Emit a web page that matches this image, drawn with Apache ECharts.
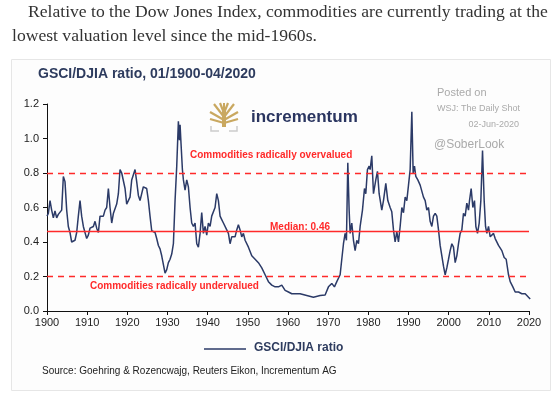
<!DOCTYPE html>
<html>
<head>
<meta charset="utf-8">
<script src="https://cdn.jsdelivr.net/npm/echarts@6/dist/echarts.min.js"></script>
<style>
html,body{margin:0;padding:0;background:#fff;}
#c{width:559px;height:398px;}
</style>
</head>
<body>
<div id="c"></div>
<script>
// ---- data ----
var years = [1900.0,1900.33,1900.75,1901.16,1901.58,1901.99,1902.41,1902.82,1903.24,1903.65,1904.07,1904.48,1904.90,1905.31,1905.73,1906.14,1906.56,1906.97,1907.39,1907.80,1908.22,1908.63,1909.05,1909.46,1909.88,1910.29,1910.71,1911.13,1911.54,1911.96,1912.37,1912.79,1913.20,1913.62,1914.03,1914.45,1914.86,1915.28,1915.69,1916.11,1916.52,1916.94,1917.35,1917.77,1918.18,1918.60,1919.01,1919.43,1919.84,1920.26,1920.67,1921.09,1921.50,1921.92,1922.33,1922.75,1923.16,1923.58,1923.99,1924.41,1924.82,1925.24,1925.65,1926.07,1926.48,1926.90,1927.31,1927.73,1928.14,1928.56,
1929.39,1929.81,1930.22,1930.64,1931.05,1931.47,1931.88,1932.30,1932.71,1932.96,1933.13,1933.37,1933.71,1933.96,1934.37,1934.79,1935.20,1935.62,1936.03,1936.45,1936.86,1937.28,1937.69,1938.11,1938.52,1938.94,1939.35,1939.77,1940.18,1940.60,1941.01,1941.43,1941.84,1942.26,1942.67,1943.09,1943.50,1943.92,1944.33,1944.75,1945.16,1945.58,1945.99,1946.82,1947.24,1947.65,1948.07,1948.48,1948.90,1949.32,1949.73,1950.15,1950.98,1951.81,1952.63,1953.47,1954.30,1955.13,1955.96,1956.79,1957.62,1958.45,1959.28,1960.11,1960.94,1963.01,1964.67,1966.33,1968.00,
1969.24,1970.07,1970.90,1971.56,1972.15,1972.98,1973.39,1973.81,1974.22,1974.55,1974.89,1975.22,1975.47,1975.88,1976.30,1976.71,1977.13,1977.54,1977.96,1978.54,1979.04,1979.37,1979.78,1980.20,1980.45,1980.86,1981.28,1981.86,1982.27,1982.69,1983.35,1983.77,1984.35,1984.85,1985.43,1985.84,1986.26,1986.67,1987.09,1987.50,1987.92,1988.34,1988.75,1989.17,1989.58,1990.00,1990.41,1990.83,1991.16,1991.49,1991.82,1992.32,1992.90,1993.32,1993.73,1994.15,1994.56,1994.98,1995.39,1995.81,1996.22,
1996.64,1997.05,1997.47,1997.88,1998.30,1998.71,1999.13,1999.54,1999.96,2000.37,2000.79,2001.20,2001.62,2002.03,2002.45,2002.86,2003.28,2003.69,2004.11,2004.52,2004.94,2005.19,2005.60,2006.02,2006.43,2006.77,2007.18,2007.60,2008.01,2008.43,2008.84,2009.18,2009.51,2009.92,2010.34,2011.17,2011.58,2012.00,2012.41,2012.83,2013.24,2013.82,2014.32,2014.90,2015.32,2015.98,2016.56,2017.39,2018.22,2019.05,2019.88,2020.30];
var ratios = [0.55,0.566,0.64,0.585,0.54,0.58,0.54,0.56,0.55,0.585,0.78,0.75,0.585,0.49,0.455,0.40,0.40,0.41,0.455,0.55,0.64,0.55,0.49,0.455,0.42,0.44,0.48,0.48,0.49,0.52,0.48,0.455,0.55,0.56,0.55,0.585,0.60,0.71,0.60,0.51,0.565,0.56,0.62,0.68,0.82,0.80,0.79,0.71,0.62,0.61,0.66,0.76,0.77,0.82,0.75,0.67,0.64,0.64,0.72,0.73,0.71,0.64,0.55,0.465,0.47,0.455,0.42,0.38,0.36,0.32,
0.22,0.24,0.28,0.30,0.33,0.39,0.64,0.84,1.10,0.99,1.08,0.97,0.82,0.76,0.70,0.76,0.72,0.60,0.51,0.49,0.51,0.39,0.37,0.45,0.57,0.45,0.49,0.44,0.51,0.49,0.55,0.56,0.60,0.68,0.64,0.55,0.53,0.51,0.50,0.47,0.45,0.39,0.43,0.43,0.47,0.50,0.47,0.43,0.45,0.41,0.40,0.37,0.32,0.30,0.28,0.25,0.21,0.17,0.15,0.14,0.14,0.15,0.12,0.11,0.10,0.10,0.09,0.08,0.09,
0.093,0.14,0.16,0.14,0.17,0.21,0.30,0.39,0.45,0.41,0.86,0.585,0.45,0.51,0.41,0.35,0.41,0.39,0.49,0.585,0.71,0.68,0.82,0.84,0.82,0.90,0.68,0.76,0.81,0.68,0.585,0.64,0.74,0.64,0.60,0.575,0.47,0.40,0.46,0.40,0.49,0.60,0.57,0.66,0.64,0.73,0.82,1.155,0.80,0.84,0.78,0.76,0.73,0.74,0.66,0.64,0.585,0.60,0.52,0.49,0.55,
0.566,0.55,0.47,0.38,0.32,0.26,0.21,0.25,0.30,0.35,0.39,0.37,0.28,0.32,0.39,0.45,0.47,0.566,0.55,0.625,0.585,0.64,0.71,0.60,0.64,0.49,0.45,0.51,0.64,0.93,0.64,0.49,0.45,0.49,0.43,0.45,0.42,0.42,0.38,0.37,0.35,0.31,0.30,0.21,0.17,0.14,0.11,0.11,0.10,0.10,0.08,0.07];
var overvalued = 0.8;
var undervalued = 0.2;
var median = 0.46;

var seriesData = years.map(function(y,i){return [y, ratios[i]];});
var RED = '#ff2a2a';
var NAVY = '#2b3a67';
var FONT = 'Liberation Sans';
var GOLD = '#c9a860';

var chart = echarts.init(document.getElementById('c'), null, {renderer:'canvas'});
var option = {
  backgroundColor: '#ffffff',
  animation: false,
  grid: {left:47, right:30, top:104, bottom:87},
  xAxis: {
    type:'value', min:1900, max:2020, interval:10,
    axisLine:{show:true, lineStyle:{color:'#111', width:1}},
    axisTick:{show:true, length:4, inside:false, lineStyle:{color:'#111'}},
    axisLabel:{color:'#222', fontSize:11, fontFamily:FONT, margin:6,
      formatter:function(v){return String(v);}},
    splitLine:{show:false}
  },
  yAxis: {
    type:'value', min:0, max:1.2, interval:0.2,
    axisLine:{show:true, lineStyle:{color:'#111', width:1}},
    axisTick:{show:true, length:4, lineStyle:{color:'#111'}},
    axisLabel:{color:'#222', fontSize:11, fontFamily:FONT, margin:8,
      formatter:function(v){return v.toFixed(1);}},
    splitLine:{show:false}
  },
  series: [{
    type:'line', name:'GSCI/DJIA ratio', data:seriesData, showSymbol:false,
    lineStyle:{color:NAVY, width:1.5}, z:3,
    markLine:{
      silent:true, symbol:['none','none'], label:{show:false},
      data:[
        {yAxis:overvalued, lineStyle:{color:RED, type:[6,5], width:1.3}},
        {yAxis:undervalued, lineStyle:{color:RED, type:[6,5], width:1.3}},
        {yAxis:median, lineStyle:{color:RED, type:'solid', width:1.3}}
      ]
    }
  }],
  graphic: [
    {type:'rect', shape:{x:11.5, y:59.5, width:539, height:331}, style:{fill:'#fdfdfd', stroke:'#e6e6e6', lineWidth:1}, z:-10},
    {type:'text', left:28, top:3, style:{text:'Relative to the Dow Jones Index, commodities are currently trading at the', fontFamily:'Liberation Serif', fontSize:17.6, fill:'#333'}},
    {type:'text', left:12, top:27, style:{text:'lowest valuation level since the mid-1960s.', fontFamily:'Liberation Serif', fontSize:17.6, fill:'#333'}},
    {type:'text', left:38, top:67, style:{text:'GSCI/DJIA ratio, 01/1900-04/2020', fontFamily:FONT, fontSize:14, fontWeight:'bold', fill:'#2d3b5e'}},
    {type:'text', left:251, top:109, style:{text:'incrementum', fontFamily:FONT, fontSize:17, fontWeight:'bold', fill:'#2a3560'}},
    // logo tree
    {type:'group', x:210, y:103, children:[
      {type:'polyline', shape:{points:[[14,24],[14,8]]}, style:{stroke:GOLD, lineWidth:4}},
      {type:'polyline', shape:{points:[[14,14],[4,1]]}, style:{stroke:GOLD, lineWidth:2.2}},
      {type:'polyline', shape:{points:[[14,14],[24,1]]}, style:{stroke:GOLD, lineWidth:2.2}},
      {type:'polyline', shape:{points:[[14,10],[10,0]]}, style:{stroke:GOLD, lineWidth:2.2}},
      {type:'polyline', shape:{points:[[14,10],[18,0]]}, style:{stroke:GOLD, lineWidth:2.2}},
      {type:'polyline', shape:{points:[[14,12],[14,0]]}, style:{stroke:GOLD, lineWidth:2}},
      {type:'polyline', shape:{points:[[14,17],[0,9]]}, style:{stroke:GOLD, lineWidth:2.2}},
      {type:'polyline', shape:{points:[[14,17],[28,9]]}, style:{stroke:GOLD, lineWidth:2.2}},
      {type:'polyline', shape:{points:[[14,20],[0,16]]}, style:{stroke:GOLD, lineWidth:2.2}},
      {type:'polyline', shape:{points:[[14,20],[28,16]]}, style:{stroke:GOLD, lineWidth:2.2}},
      {type:'polyline', shape:{points:[[1,23],[1,28],[9,28]]}, style:{stroke:'#cccccc', lineWidth:1.5, fill:null}},
      {type:'polyline', shape:{points:[[27,23],[27,28],[19,28]]}, style:{stroke:'#cccccc', lineWidth:1.5, fill:null}}
    ]},
    {type:'text', left:437, top:87, style:{text:'Posted on', fontFamily:FONT, fontSize:11, fill:'#aaaaaa'}},
    {type:'text', left:437, top:104, style:{text:'WSJ: The Daily Shot', fontFamily:FONT, fontSize:9, fill:'#aaaaaa'}},
    {type:'text', right:40, top:120, style:{text:'02-Jun-2020', fontFamily:FONT, fontSize:9, fill:'#aaaaaa'}},
    {type:'text', left:434, top:139, style:{text:'@SoberLook', fontFamily:FONT, fontSize:12, fill:'#aaaaaa'}},
    {type:'text', left:190, top:150, style:{text:'Commodities radically overvalued', fontFamily:FONT, fontSize:10, fontWeight:'bold', fill:RED}},
    {type:'text', left:270, top:222, style:{text:'Median: 0.46', fontFamily:FONT, fontSize:10, fontWeight:'bold', fill:RED}},
    {type:'text', left:90, top:281, style:{text:'Commodities radically undervalued', fontFamily:FONT, fontSize:10, fontWeight:'bold', fill:RED}},
    {type:'line', shape:{x1:204, y1:349, x2:246, y2:349}, style:{stroke:NAVY, lineWidth:1.5}},
    {type:'text', left:254, top:342, style:{text:'GSCI/DJIA ratio', fontFamily:FONT, fontSize:12, fontWeight:'bold', fill:'#2d3b5e'}},
    {type:'text', left:42, top:366, style:{text:'Source: Goehring & Rozencwajg, Reuters Eikon, Incrementum AG', fontFamily:FONT, fontSize:10, fill:'#222'}}
  ]
};
chart.setOption(option);
</script>
</body>
</html>
